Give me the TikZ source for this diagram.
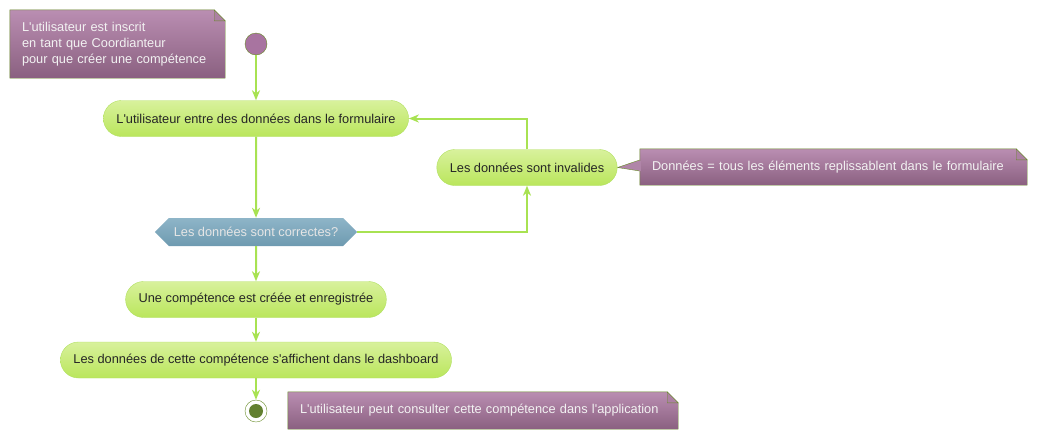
\documentclass[tikz,border=0pt]{standalone}
\usepackage{fontspec}
\setmainfont{Liberation Sans}[Ligatures=TeXOff]
\usepackage{xcolor}
\usetikzlibrary{arrows.meta,shapes.symbols,backgrounds}
\definecolor{flowgreen}{RGB}{168,226,82}
\definecolor{acttop}{RGB}{216,241,156}
\definecolor{actbottom}{RGB}{186,230,92}
\definecolor{actborder}{RGB}{176,224,96}
\definecolor{notetop}{RGB}{186,142,178}
\definecolor{notebottom}{RGB}{138,96,128}
\definecolor{noteborder}{RGB}{104,140,40}
\definecolor{dectop}{RGB}{142,181,200}
\definecolor{decbottom}{RGB}{110,154,176}
\definecolor{startfill}{RGB}{168,116,160}
\definecolor{endfill}{RGB}{98,128,48}

\begin{document}
\begin{tikzpicture}[x=1pt, y=-1pt, font=\fontsize{12.8}{16}\selectfont,
    activity/.style={rectangle, rounded corners=18pt, draw=actborder, top color=acttop, bottom color=actbottom, minimum height=36pt, inner xsep=13pt, text=black!85},
    decision/.style={signal, signal to=west and east, signal pointer angle=90, top color=dectop, bottom color=decbottom, minimum height=28pt, inner xsep=5pt, text=white!90!black},
    notetext/.style={rectangle, align=left, inner xsep=12pt, inner ysep=0pt, text=white!95!black},
    flow/.style={flowgreen, line width=2pt, -{Stealth[length=10pt, width=8pt, inset=3pt]}}]
    \useasboundingbox (0,0) rectangle (1039,440);
    % 开始与结束
    \node[circle, draw=noteborder, fill=startfill, minimum size=22pt, inner sep=0pt] (start) at (256,44) {};
    \node[circle, draw=noteborder, fill=white, minimum size=22pt, inner sep=0pt,
        path picture={\fill[endfill] (path picture bounding box.center) circle (7pt);}] (stop) at (256,411) {};
    % 活动
    \node[activity] (enter) at (256,118.5) {L'utilisateur entre des données dans le formulaire};
    \node[activity] (invalid) at (527,167.5) {Les données sont invalides};
    \node[decision] (check) at (256,232) {Les données sont correctes?};
    \node[activity] (create) at (256,299.5) {Une compétence est créée et enregistrée};
    \node[activity] (show) at (256,360) {Les données de cette compétence s'affichent dans le dashboard};
    % 注释
    \node[notetext, text width=191pt, minimum height=68pt] (noteA) at (117.5,44) {L'utilisateur est inscrit\\en tant que Coordianteur\\pour que créer une compétence};
    \node[notetext, text width=363pt, minimum height=36pt] (noteB) at (833.5,167) {Données = tous les éléments replissablent dans le formulaire};
    \node[notetext, text width=366pt, minimum height=37pt] (noteC) at (483,410.5) {L'utilisateur peut consulter cette compétence dans l'application};
    \begin{scope}[on background layer]
        \foreach \n in {noteA,noteB,noteC} {
            \shade[draw=noteborder, top color=notetop, bottom color=notebottom] (\n.north west) -- ([xshift=-11pt]\n.north east) -- ([yshift=-11pt]\n.north east) -- (\n.south east) -- (\n.south west) -- cycle;
            \draw[noteborder, fill=notetop!70!notebottom] ([xshift=-11pt]\n.north east) -- ([xshift=-11pt,yshift=-11pt]\n.north east) -- ([yshift=-11pt]\n.north east) -- cycle;
        }
        \draw[noteborder, fill=notetop!80!notebottom] ([yshift=7pt]noteB.west) -- (invalid.east) -- ([yshift=-4pt]noteB.west);
        \fill[notetop!80!notebottom] ([xshift=1pt,yshift=6.5pt]noteB.west) rectangle ([xshift=-1pt,yshift=-3.5pt]noteB.west);
    \end{scope}
    % 连线
    \draw[flow] (start) -- (enter);
    \draw[flow] (enter) -- (check);
    \draw[flow] (check.east) -| (invalid);
    \draw[flow] (invalid) |- (enter);
    \draw[flow] (check) -- (create);
    \draw[flow] (create) -- (show);
    \draw[flow] (show) -- (stop);
\end{tikzpicture}
\end{document}
